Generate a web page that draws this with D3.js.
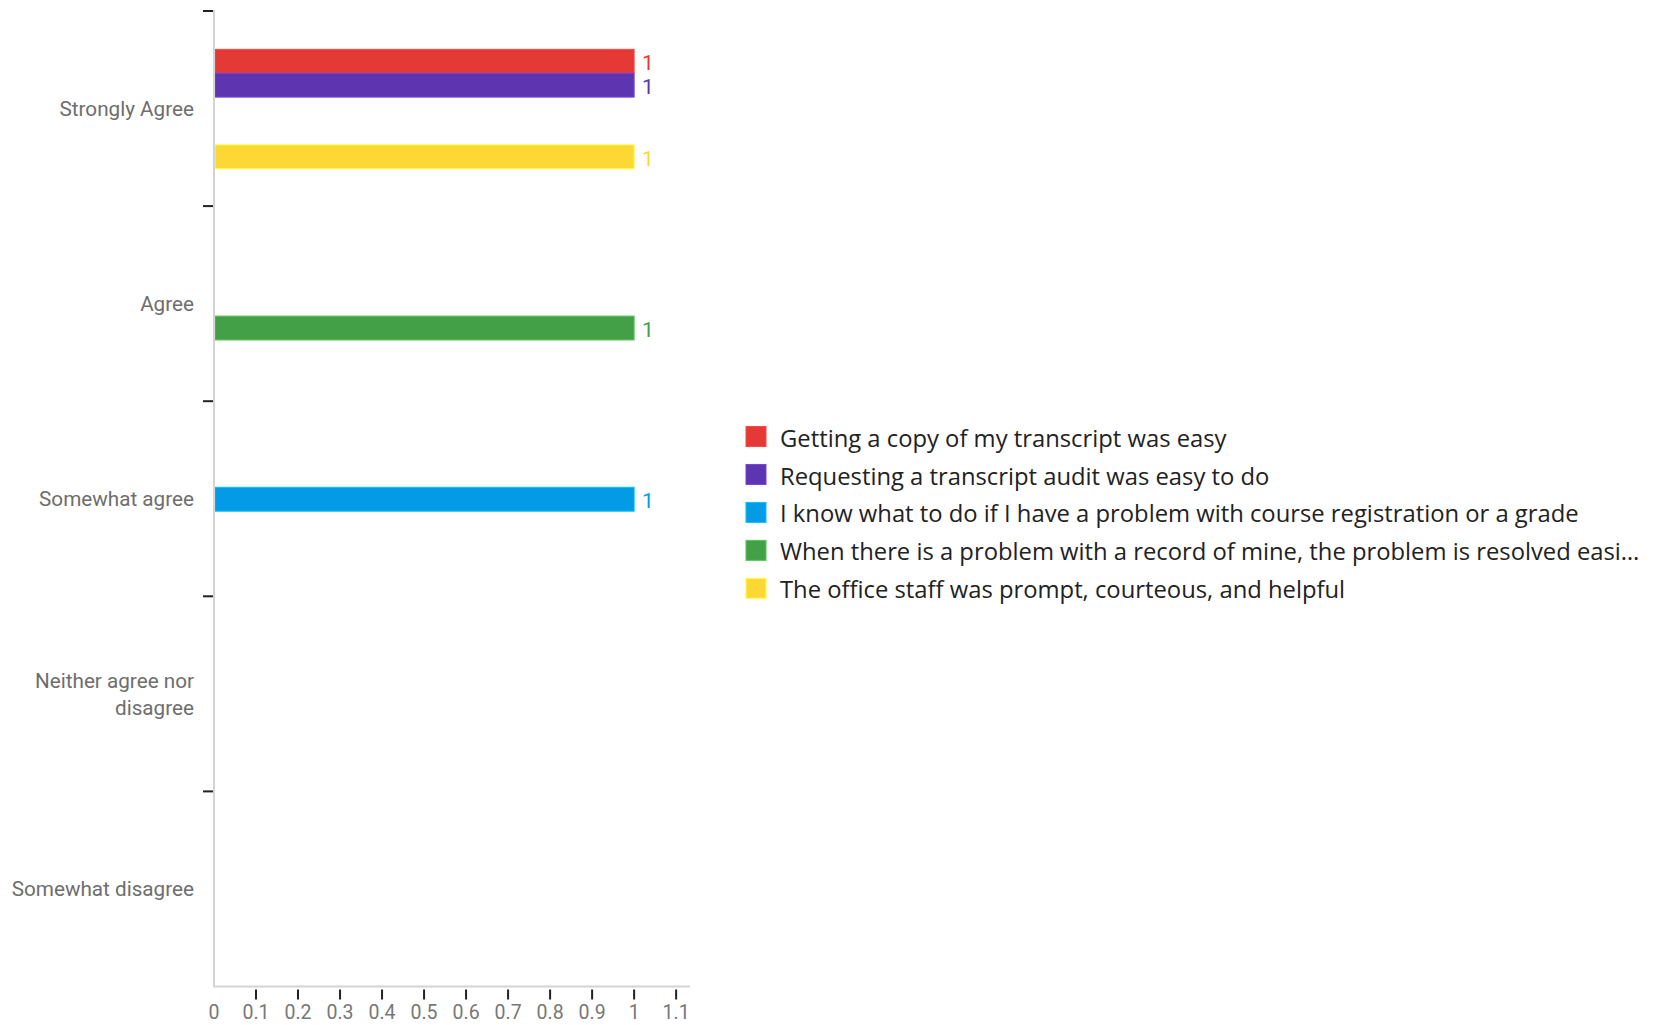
<!DOCTYPE html>
<html>
<head>
<meta charset="utf-8">
<script src="https://cdn.jsdelivr.net/npm/d3@7"></script>
<style>
  html, body { margin: 0; padding: 0; background: #fff; }
  svg { display: block; }
</style>
</head>
<body>
<svg id="chart" width="1653" height="1025"></svg>
<script>
const categories = ["Strongly Agree", "Agree", "Somewhat agree", "Neither agree nor disagree", "Somewhat disagree"];
const seriesNames = [
  "Getting a copy of my transcript was easy",
  "Requesting a transcript audit was easy to do",
  "I know what to do if I have a problem with course registration or a grade",
  "When there is a problem with a record of mine, the problem is resolved easi…",
  "The office staff was prompt, courteous, and helpful"
];
const seriesColors = ["#e53935", "#5e35b1", "#039be5", "#43a047", "#fdd835"];
const valuesGettingCopy   = [1, 0, 0, 0, 0];
const valuesRequestAudit  = [1, 0, 0, 0, 0];
const valuesKnowWhatToDo  = [0, 0, 1, 0, 0];
const valuesProblemSolved = [0, 1, 0, 0, 0];
const valuesOfficeStaff   = [1, 0, 0, 0, 0];
const xTicks = [0, 0.1, 0.2, 0.3, 0.4, 0.5, 0.6, 0.7, 0.8, 0.9, 1, 1.1];
const xMax = 1.133;

const seriesValues = [valuesGettingCopy, valuesRequestAudit, valuesKnowWhatToDo, valuesProblemSolved, valuesOfficeStaff];

const svg = d3.select("#chart");
const mLeft = 214, mTop = 11, mBottom = 986.5, mRight = 690;

const x = d3.scaleLinear().domain([0, xMax]).range([mLeft, mRight]);
const y0 = d3.scaleBand().domain(categories).range([mTop, mBottom]).paddingInner(0.388).paddingOuter(0.194);
const y1 = d3.scaleBand().domain(d3.range(seriesNames.length)).range([0, y0.bandwidth()]);

// Bars
const rows = [];
seriesValues.forEach((vals, si) => {
  vals.forEach((v, ci) => { if (v > 0) rows.push({si, ci, v}); });
});

const gBars = svg.append("g");
gBars.selectAll("rect").data(rows).join("rect")
  .attr("x", x(0) + 1)
  .attr("y", d => y0(categories[d.ci]) + y1(d.si) + 0.5)
  .attr("width", d => x(d.v) - x(0) - 1)
  .attr("height", y1.bandwidth())
  .attr("fill", d => seriesColors[d.si])
  .attr("stroke", d => d3.color(seriesColors[d.si]).brighter(0.6))
  .attr("stroke-width", 1);

gBars.selectAll("text").data(rows).join("text")
  .attr("x", d => x(d.v) + 8)
  .attr("y", d => y0(categories[d.ci]) + y1(d.si) + y1.bandwidth() / 2)
  .attr("dy", "0.45em")
  .attr("fill", d => seriesColors[d.si])
  .style("font-family", "Roboto, sans-serif")
  .style("font-size", "21px")
  .text(d => d.v);

// Y axis line
svg.append("line")
  .attr("x1", mLeft).attr("x2", mLeft)
  .attr("y1", mTop - 1).attr("y2", mBottom)
  .attr("stroke", "#d4d4d4").attr("stroke-width", 2);

// Y ticks at band boundaries
const yBoundaries = categories.map(c => y0(c) - y0.step() * 0.194);
svg.append("g").selectAll("line").data(yBoundaries).join("line")
  .attr("x1", mLeft - 11).attr("x2", mLeft - 1)
  .attr("y1", d => d).attr("y2", d => d)
  .attr("stroke", "#222").attr("stroke-width", 2);

// Y labels
const yLab = svg.append("g")
  .style("font-family", "Roboto, sans-serif")
  .style("font-size", "20.7px")
  .attr("fill", "#6e6e6e")
  .attr("text-anchor", "end");
const wrapMap = {"Neither agree nor disagree": ["Neither agree nor", "disagree"]};
categories.forEach(c => {
  const cy = y0(c) + y0.bandwidth() / 2;
  const lines = wrapMap[c] || [c];
  const t = yLab.append("text").attr("x", mLeft - 20).attr("y", cy);
  lines.forEach((ln, i) => {
    t.append("tspan").attr("x", mLeft - 20)
      .attr("dy", i === 0 ? `${0.36 - (lines.length - 1) * 0.66}em` : "1.32em")
      .text(ln);
  });
});

// X axis line
svg.append("line")
  .attr("x1", mLeft - 1).attr("x2", mRight)
  .attr("y1", mBottom).attr("y2", mBottom)
  .attr("stroke", "#d4d4d4").attr("stroke-width", 2);

// X ticks
svg.append("g").selectAll("line").data(xTicks.filter(t => t > 0)).join("line")
  .attr("x1", d => x(d)).attr("x2", d => x(d))
  .attr("y1", mBottom + 3).attr("y2", mBottom + 13)
  .attr("stroke", "#222").attr("stroke-width", 2);

svg.append("g").selectAll("text").data(xTicks).join("text")
  .attr("x", d => x(d))
  .attr("y", 1012)
  .attr("dy", "0.36em")
  .attr("text-anchor", "middle")
  .attr("fill", "#777")
  .style("font-family", "Roboto, sans-serif")
  .style("font-size", "19.5px")
  .text(d => String(d));

// Legend
const legend = svg.append("g").attr("transform", "translate(746, 426.5)");
const rowH = 37.95;
const li = legend.selectAll("g").data(seriesNames).join("g")
  .attr("transform", (d, i) => `translate(0, ${i * rowH})`);
li.append("rect").attr("width", 20).attr("height", 20)
  .attr("fill", (d, i) => seriesColors[i])
  .attr("stroke", (d, i) => d3.color(seriesColors[i]).brighter(0.6))
  .attr("stroke-width", 1);
li.append("text").attr("x", 34).attr("y", 11.5).attr("dy", "0.36em")
  .attr("fill", "#222")
  .style("font-family", "'Open Sans', sans-serif")
  .style("font-size", "23.8px")
  .text(d => d);
</script>
</body>
</html>
